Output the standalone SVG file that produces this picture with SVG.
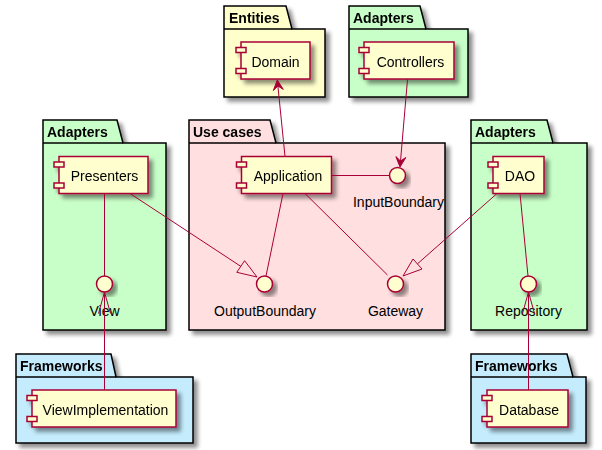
<svg xmlns="http://www.w3.org/2000/svg" width="602" height="450" viewBox="0 0 602 450">
<defs>
<filter id="sh" x="-20%" y="-20%" width="150%" height="150%">
<feGaussianBlur in="SourceAlpha" stdDeviation="2"/>
<feOffset dx="4" dy="4" result="o"/>
<feComponentTransfer><feFuncA type="linear" slope="0.45"/></feComponentTransfer>
<feMerge><feMergeNode/><feMergeNode in="SourceGraphic"/></feMerge>
</filter>
<style>
.pkg{stroke:#000;stroke-width:1.5;}
.ptitle{font-family:"Liberation Sans",Arial,sans-serif;font-weight:bold;font-size:14px;fill:#000;}
.comp{fill:#FEFECE;stroke:#A80036;stroke-width:1.5;}
.ctext{font-family:"Liberation Sans",Arial,sans-serif;font-size:14px;fill:#000;text-anchor:middle;}
.ifc{fill:#FEFECE;stroke:#A80036;stroke-width:1.5;}
.ln{stroke:#A80036;stroke-width:1;fill:none;}
.ahead{fill:#A80036;stroke:#A80036;stroke-width:1;}
.tri{fill:none;stroke:#A80036;stroke-width:1;}
.yel{fill:#FFFFCC;} .grn{fill:#C8FFC8;} .pnk{fill:#FFDFDF;} .blu{fill:#C4ECFD;}
</style>
</defs>

<!-- packages -->
<g id="pkg-entities" filter="url(#sh)">
<path class="pkg yel" d="M224,6 L286,6 L292,29 L325,29 L325,97 L224,97 Z"/>
<line class="pkg" x1="224" y1="29" x2="292" y2="29"/>
<text class="ptitle" x="229" y="23">Entities</text>
</g>
<g id="pkg-adapters-top" filter="url(#sh)">
<path class="pkg grn" d="M349,6 L420,6 L426,29 L468,29 L468,97 L349,97 Z"/>
<line class="pkg" x1="349" y1="29" x2="426" y2="29"/>
<text class="ptitle" x="353" y="23">Adapters</text>
</g>
<g id="pkg-adapters-left" filter="url(#sh)">
<path class="pkg grn" d="M43,120 L117,120 L123,143 L166,143 L166,330 L43,330 Z"/>
<line class="pkg" x1="43" y1="143" x2="123" y2="143"/>
<text class="ptitle" x="47" y="137">Adapters</text>
</g>
<g id="pkg-usecases" filter="url(#sh)">
<path class="pkg pnk" d="M189,120 L270,120 L276,143 L445,143 L445,330 L189,330 Z"/>
<line class="pkg" x1="189" y1="143" x2="276" y2="143"/>
<text class="ptitle" x="193" y="137">Use cases</text>
</g>
<g id="pkg-adapters-right" filter="url(#sh)">
<path class="pkg grn" d="M471,120 L547,120 L553,143 L587,143 L587,330 L471,330 Z"/>
<line class="pkg" x1="471" y1="143" x2="553" y2="143"/>
<text class="ptitle" x="475" y="137">Adapters</text>
</g>
<g id="pkg-frameworks-left" filter="url(#sh)">
<path class="pkg blu" d="M16,354 L111,354 L116,377 L193,377 L193,443 L16,443 Z"/>
<line class="pkg" x1="16" y1="377" x2="116" y2="377"/>
<text class="ptitle" x="20" y="371">Frameworks</text>
</g>
<g id="pkg-frameworks-right" filter="url(#sh)">
<path class="pkg blu" d="M471,354 L567,354 L573,377 L586,377 L586,443 L471,443 Z"/>
<line class="pkg" x1="471" y1="377" x2="573" y2="377"/>
<text class="ptitle" x="475" y="371">Frameworks</text>
</g>

<!-- components -->
<g id="Domain" filter="url(#sh)">
<rect class="comp" x="241" y="42" width="69" height="37"/>
<rect class="comp" x="236" y="47.5" width="10" height="5"/>
<rect class="comp" x="236" y="68.5" width="10" height="5"/>
<text class="ctext" x="275.5" y="66.5">Domain</text>
</g>
<g id="Controllers" filter="url(#sh)">
<rect class="comp" x="364" y="42" width="90" height="37"/>
<rect class="comp" x="359" y="47.5" width="10" height="5"/>
<rect class="comp" x="359" y="68.5" width="10" height="5"/>
<text class="ctext" x="410.5" y="66.5">Controllers</text>
</g>
<g id="Presenters" filter="url(#sh)">
<rect class="comp" x="59" y="156.5" width="89" height="37"/>
<rect class="comp" x="54" y="162" width="10" height="5"/>
<rect class="comp" x="54" y="183" width="10" height="5"/>
<text class="ctext" x="104.5" y="181">Presenters</text>
</g>
<g id="Application" filter="url(#sh)">
<rect class="comp" x="241.5" y="156.5" width="90" height="37"/>
<rect class="comp" x="236.5" y="162" width="10" height="5"/>
<rect class="comp" x="236.5" y="183" width="10" height="5"/>
<text class="ctext" x="288" y="181">Application</text>
</g>
<g id="DAO" filter="url(#sh)">
<rect class="comp" x="493" y="156.5" width="51" height="37"/>
<rect class="comp" x="488" y="162" width="10" height="5"/>
<rect class="comp" x="488" y="183" width="10" height="5"/>
<text class="ctext" x="520" y="181">DAO</text>
</g>
<g id="ViewImplementation" filter="url(#sh)">
<rect class="comp" x="32" y="390" width="144" height="37"/>
<rect class="comp" x="27" y="395.5" width="10" height="5"/>
<rect class="comp" x="27" y="416.5" width="10" height="5"/>
<text class="ctext" x="105.5" y="414.5">ViewImplementation</text>
</g>
<g id="Database" filter="url(#sh)">
<rect class="comp" x="487" y="390" width="81" height="37"/>
<rect class="comp" x="482" y="395.5" width="10" height="5"/>
<rect class="comp" x="482" y="416.5" width="10" height="5"/>
<text class="ctext" x="529" y="414.5">Database</text>
</g>

<!-- interfaces -->
<g id="InputBoundary">
<circle class="ifc" cx="397.5" cy="175.5" r="8" filter="url(#sh)"/>
<text class="ctext" x="398.5" y="207">InputBoundary</text>
</g>
<g id="OutputBoundary">
<circle class="ifc" cx="264.5" cy="284" r="8" filter="url(#sh)"/>
<text class="ctext" x="265" y="315.5">OutputBoundary</text>
</g>
<g id="Gateway">
<circle class="ifc" cx="395.5" cy="284" r="8" filter="url(#sh)"/>
<text class="ctext" x="395.5" y="315.5">Gateway</text>
</g>
<g id="View">
<circle class="ifc" cx="104.5" cy="284" r="8" filter="url(#sh)"/>
<text class="ctext" x="104.5" y="315.5">View</text>
</g>
<g id="Repository">
<circle class="ifc" cx="528.5" cy="284" r="8" filter="url(#sh)"/>
<text class="ctext" x="528.5" y="315.5">Repository</text>
</g>

<!-- connectors -->
<g id="connectors">
<line class="ln" x1="285" y1="156.5" x2="277.9" y2="86"/>
<polygon class="ahead" points="277.3,80 283.3,89.4 277.9,86 273.35,90.5"/>
<line class="ln" x1="407.5" y1="79.5" x2="400.5" y2="161"/>
<polygon class="ahead" points="400,167 395.9,156.6 400.5,161 405.8,157.5"/>
<line class="ln" x1="331.5" y1="175.5" x2="389.5" y2="175.5"/>
<line class="ln" x1="283" y1="193.5" x2="266" y2="276"/>
<line class="ln" x1="305" y1="193.5" x2="387.5" y2="275"/>
<line class="ln" x1="130" y1="193.5" x2="241" y2="266.5"/>
<polygon class="tri" points="257,277 236.8,272.3 244.6,260.7"/>
<line class="ln" x1="497" y1="193.5" x2="417.5" y2="263.8"/>
<polygon class="tri" points="403,276 413,259 422,269"/>
<line class="ln" x1="104.5" y1="193.5" x2="104.5" y2="276"/>
<line class="ln" x1="520" y1="193.5" x2="528" y2="276"/>
<line class="ln" x1="104.5" y1="390" x2="104.5" y2="292"/>
<polyline class="ln" points="98.5,313.5 104.5,292 110.5,313.5"/>
<line class="ln" x1="528.5" y1="390" x2="528.5" y2="292"/>
<polyline class="ln" points="522.5,313.5 528.5,292 534.5,313.5"/>
</g>
</svg>
